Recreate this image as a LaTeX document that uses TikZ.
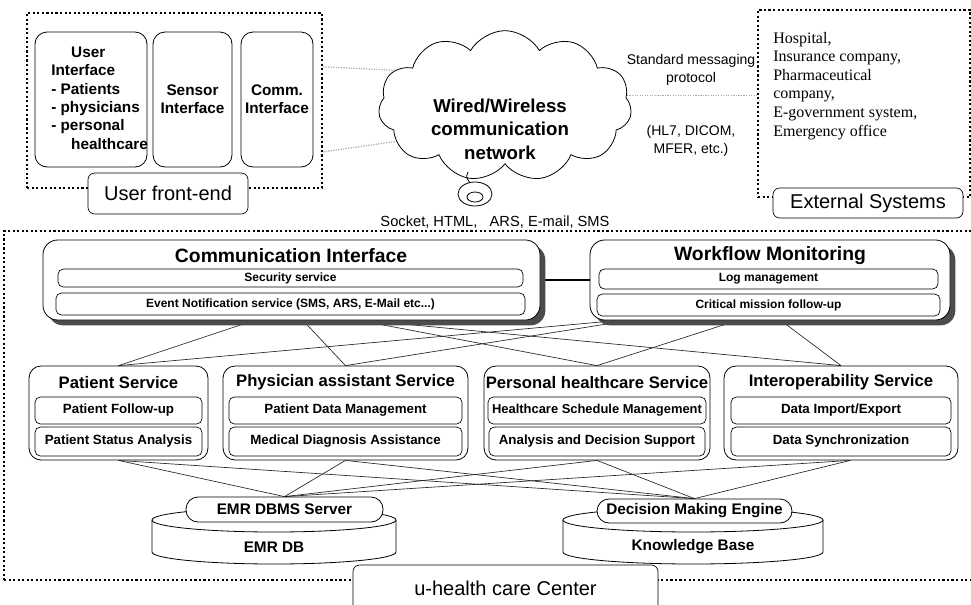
\documentclass[tikz,border=0pt]{standalone}
\usepackage{fontspec}
\setmainfont{Liberation Sans}
\newfontfamily\listfont{Liberation Serif}
\usetikzlibrary{positioning}
\usetikzlibrary{calc,shapes.symbols,shadows,backgrounds}

\begin{document}
\begin{tikzpicture}[x=0.75pt, y=-0.75pt,
	span/.style n args={4}{at={({(#1+#3)/2},{(#2+#4)/2})}, minimum width={(#3-#1)*0.75pt}, minimum height={(#4-#2)*0.75pt}},
	zone/.style={draw, line width=1.7pt, dash pattern=on 1.6pt off 1.8pt, inner sep=0pt},
	zonelabel/.style={draw, fill=white, rounded corners=5pt, inner sep=0pt, line width=0.5pt, font=\fontsize{15}{17}\selectfont},
	ifbox/.style={draw, fill=white, rounded corners=9pt, inner sep=0pt, line width=0.6pt},
	topbox/.style={ifbox, rounded corners=11pt, drop shadow={shadow xshift=4pt, shadow yshift=-4pt, fill=black!70, opacity=1}},
	subbox/.style={draw, rounded corners=4pt, inner sep=0pt, line width=0.5pt},
	pill/.style={draw, fill=white, rounded corners=9pt, inner sep=0pt, line width=0.6pt},
	link/.style={line width=0.5pt, black!85},
	netlink/.style={line width=0.9pt, black!35, densely dotted},
	uitext/.style={inner sep=0pt, font=\bfseries\fontsize{11.5}{13.8}\selectfont},
	nettext/.style={inner sep=0pt, font=\bfseries\fontsize{14}{17.6}\selectfont},
	bigtitle/.style={inner sep=0pt, font=\bfseries\fontsize{14.5}{16}\selectfont},
	subtext/.style={font=\bfseries\fontsize{9}{11}\selectfont},
	svctitle/.style={inner sep=0pt, font=\bfseries\fontsize{12.5}{14}\selectfont},
	svctext/.style={font=\bfseries\fontsize{10}{12}\selectfont},
	dbtext/.style={font=\bfseries\fontsize{11.5}{13}\selectfont},
	prototext/.style={inner sep=0pt, font=\fontsize{10.5}{13.5}\selectfont},
	socktext/.style={inner sep=0pt, font=\fontsize{11}{13}\selectfont},
	listtext/.style={inner sep=0pt, font=\listfont\fontsize{12}{13.9}\selectfont}]
	\useasboundingbox (0,0) rectangle (971,604);

	\node[zone, span={27}{13}{322}{188}] (front) {};
	\node[ifbox, span={35}{32}{147}{167}] (ui) {};
	\node[ifbox, span={153}{32}{232}{167}] (sensor) {};
	\node[ifbox, span={241}{32}{313}{167}] (comm) {};
	\node[uitext, anchor=west, align=left] (uilist) at (51,98) {\hspace*{1.3em}User\\Interface\\- Patients\\- physicians\\- personal\\\hspace*{1.3em}healthcare};
	\node[uitext, align=center] (sensortxt) at (sensor.center) {Sensor\\Interface};
	\node[uitext, align=center] (commtxt) at (comm.center) {Comm.\\Interface};
	\node[zonelabel, span={88}{173}{248}{214}] (frontlbl) {User front-end};

	\node[cloud, draw, cloud puffs=11, cloud puff arc=120, aspect=1.7, minimum width=190pt, minimum height=113pt, inner sep=0pt, line width=0.6pt] (net) at (505,106) {};
	\node[nettext, align=center] (nettxt) at (500,129) {Wired/Wireless\\communication\\network};
	\draw[line width=0.6pt] (468,172) .. controls (466,177) .. (470,183);
	\draw[fill=white, line width=0.6pt] (475,194) ellipse [x radius=17, y radius=12];
	\draw[line width=0.6pt] (475,197) ellipse [x radius=8, y radius=5];

	\node[zone, span={758}{10}{970}{197}] (ext) {};
	\node[listtext, anchor=north west, align=left] (extlist) at (773,32) {Hospital,\\Insurance company,\\Pharmaceutical\\company,\\E-government system,\\Emergency office};
	\node[zonelabel, span={773}{188}{963}{218}] (extlbl) {External Systems};
	\node[prototext, align=center] (stdlbl) at (691,70) {Standard messaging\\protocol};
	\node[prototext, align=center] (hl7lbl) at (691,141) {(HL7, DICOM,\\MFER, etc.)};

	\draw[netlink] ($(front.north east)!.31!(front.south east)$) -- (net.162);
	\draw[netlink] ($(front.north east)!.79!(front.south east)$) -- (net.198);
	\draw[netlink] (net.5) -- (net.5 -| ext.west);

	\node[socktext] (socklbl) at (495,222) {Socket, HTML,\ \ \ ARS, E-mail,\ SMS};

	\node[zone, span={4}{231}{975}{580}] (hub) {};
	\node[zonelabel, span={353}{565}{658}{612}] (hublbl) {u-health care Center};

	\node[topbox, span={43}{240}{540}{320}] (ci) {};
	\node[bigtitle] (cititle) at (291,256) {Communication Interface};
	\node[subbox, subtext, span={58}{269}{523}{287}] (cisec) {Security service};
	\node[subbox, subtext, span={56}{293}{525}{315}] (cievt) {Event Notification service (SMS, ARS, E-Mail etc...)};

	\node[topbox, span={590}{240}{950}{320}] (wm) {};
	\node[bigtitle] (wmtitle) at (770,256) {Workflow Monitoring};
	\node[subbox, subtext, span={599}{269}{938}{289}] (wmlog) {Log management};
	\node[subbox, subtext, span={597}{294}{940}{316}] (wmcrit) {Critical mission follow-up};

	\node[ifbox, span={29}{366}{208}{460}] (pat) {};
	\node[svctitle] (pattitle) at ($(pat.north)+(0,17)$) {Patient Service};
	\node[subbox, svctext, span={35}{397}{202}{424}] (patfol) {Patient Follow-up};
	\node[subbox, svctext, span={35}{427}{202}{456}] (patsta) {Patient Status Analysis};

	\node[ifbox, span={223}{366}{468}{460}] (phy) {};
	\node[svctitle] (phytitle) at ($(phy.north)+(0,17)$) {Physician assistant Service};
	\node[subbox, svctext, span={229}{397}{462}{424}] (phydat) {Patient Data Management};
	\node[subbox, svctext, span={229}{427}{462}{456}] (phydia) {Medical Diagnosis Assistance};

	\node[ifbox, span={484}{366}{710}{460}] (per) {};
	\node[svctitle] (pertitle) at ($(per.north)+(0,17)$) {Personal healthcare Service};
	\node[subbox, svctext, span={488}{397}{706}{424}, font=\bfseries\fontsize{9.7}{12}\selectfont] (persch) {Healthcare Schedule Management};
	\node[subbox, svctext, span={489}{427}{705}{456}] (perana) {Analysis and Decision Support};

	\node[ifbox, span={724}{366}{958}{460}] (itp) {};
	\node[svctitle] (itptitle) at ($(itp.north)+(0,17)$) {Interoperability Service};
	\node[subbox, svctext, span={731}{397}{951}{424}] (itpimp) {Data Import/Export};
	\node[subbox, svctext, span={731}{427}{951}{456}] (itpsyn) {Data Synchronization};

	\draw[fill=white, line width=0.6pt] (152,520) -- (152,552) arc[start angle=180, end angle=0, x radius=122, y radius=12] -- (396,520) arc[start angle=0, end angle=-180, x radius=122, y radius=12] -- cycle;
	\draw[line width=0.6pt] (152,520) arc[start angle=180, end angle=0, x radius=122, y radius=12];
	\node[dbtext] (emrdb) at (274,547) {EMR DB};
	\node[pill, dbtext, span={186}{497}{383}{522}] (emrsrv) {EMR DBMS Server};

	\draw[fill=white, line width=0.6pt] (563,520) -- (563,552) arc[start angle=180, end angle=0, x radius=130, y radius=12] -- (823,520) arc[start angle=0, end angle=-180, x radius=130, y radius=12] -- cycle;
	\draw[line width=0.6pt] (563,520) arc[start angle=180, end angle=0, x radius=130, y radius=12];
	\node[dbtext] (kb) at (693,547) {Knowledge Base};
	\node[pill, dbtext, span={597}{499}{792}{523}] (dmeng) {Decision Making Engine};

	\begin{pgfonlayer}{background}
		\draw[line width=1.1pt] (ci.east) -- (wm.west);
		\draw[link] ($(ci.south west)!.425!(ci.south east)$) -- (pat.north);
		\draw[link] ($(ci.south west)!.523!(ci.south east)$) -- (phy.north);
		\draw[link] ($(ci.south west)!.636!(ci.south east)$) -- (per.north);
		\draw[link] ($(ci.south west)!.648!(ci.south east)$) -- (itp.north);
		\draw[link] ($(wm.south west)!.08!(wm.south east)$) -- (pat.north);
		\draw[link] ($(wm.south west)!.11!(wm.south east)$) -- (phy.north);
		\draw[link] ($(wm.south west)!.41!(wm.south east)$) -- (per.north);
		\draw[link] ($(wm.south west)!.53!(wm.south east)$) -- (itp.north);
		\draw[link] (pat.south) -- (emrsrv.north);
		\draw[link] (pat.south) -- (dmeng.north);
		\draw[link] (phy.south) -- (emrsrv.north);
		\draw[link] (phy.south) -- (dmeng.north);
		\draw[link] (per.south) -- (emrsrv.north);
		\draw[link] (per.south) -- (dmeng.north);
		\draw[link] ($(itp.south west)!.54!(itp.south east)$) -- (emrsrv.north);
		\draw[link] ($(itp.south west)!.54!(itp.south east)$) -- (dmeng.north);
	\end{pgfonlayer}
\end{tikzpicture}
\end{document}
